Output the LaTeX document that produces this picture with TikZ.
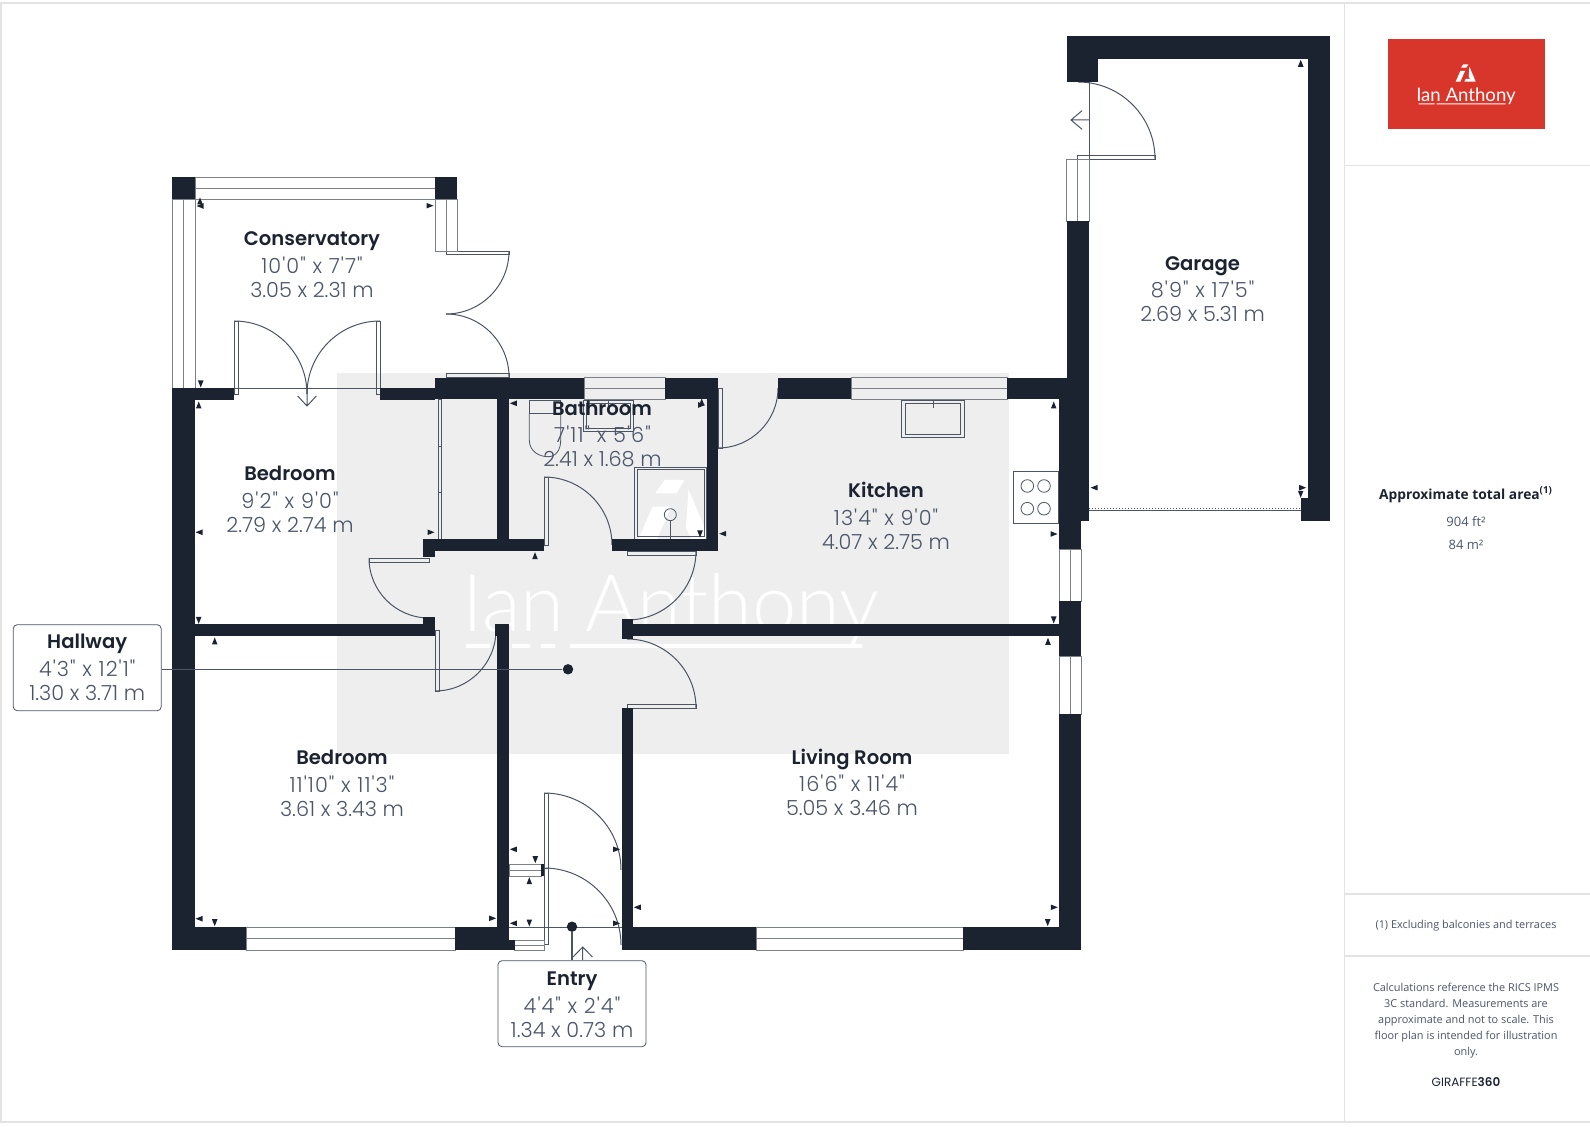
\documentclass[tikz,border=0pt]{standalone}
\usepackage{fontspec}
\setmainfont{Open Sans}
\newfontfamily\titlefont{Poppins SemiBold}
\newfontfamily\dimfont{Poppins Light}[Kerning=Off, Numbers=Monospaced]
\newfontfamily\impfont{Poppins Light}[Kerning=Off, Numbers=Monospaced, LetterSpace=5]
\newfontfamily\brandfont{Lato Light}
\definecolor{wallcol}{HTML}{1B2331}
\definecolor{linecol}{HTML}{4B5563}
\definecolor{glasscol}{HTML}{7C8188}
\definecolor{dimcol}{HTML}{4A5568}
\definecolor{panelcol}{HTML}{E3E3E3}
\definecolor{backcol}{HTML}{EEEEEE}
\definecolor{brandred}{HTML}{D9362B}
\newcommand{\brandmark}{(23,0) -- (38,0) -- (32,10) -- (16,10) -- cycle (14,20) -- (28,20) -- (14,52) -- (0,52) -- cycle (41,7) -- (60,52) -- (26,52) -- (30,44) -- (43,44) -- (39,36) -- cycle}
\tikzset{
	wall/.style={fill=wallcol},
	glass/.style={draw=glasscol, line width=0.45pt},
	panel/.style={draw=linecol, line width=0.4pt},
	swing/.style={draw=linecol, line width=0.5pt},
	divider/.style={draw=panelcol, line width=0.8pt},
	hotspot/.style={circle, fill=wallcol, inner sep=0pt, minimum size=5.2pt},
	roomname/.style={font=\titlefont\fontsize{9.8}{12}\selectfont, text=wallcol, text height=7.5pt, text depth=0pt},
	roomsize/.style={font=\dimfont\fontsize{10.4}{12.2}\selectfont, text=dimcol, align=center},
	tag/.style={draw=linecol, line width=0.4pt, fill=white, rounded corners=2pt, minimum width=74pt, minimum height=43pt, inner sep=0pt},
	sidetext/.style={font=\fontsize{5.45}{8}\selectfont, text=dimcol, align=center},
}
\begin{document}
\begin{tikzpicture}[x=0.5pt, y=-0.5pt]
	\useasboundingbox (0,0) rectangle (1590,1127);
	\draw[panelcol, line width=0.7pt] (1590,3) -- (1,3) -- (1,1122) -- (1590,1122);
	\draw[divider] (1344.5,3) -- (1344.5,1122);
	\draw[divider] (1344.5,165.5) -- (1590,165.5);
	\draw[divider] (1344.5,894) -- (1590,894);
	\draw[divider] (1344.5,956) -- (1590,956);

	\fill[backcol] (337,372.7) rectangle (1009,753.7);
	\fill[white, shift={(634,480)}, scale=1.33] \brandmark;
	\node[text=white, anchor=base, font=\brandfont\fontsize{39.8}{40}\selectfont, inner sep=0pt] (watermark) at (671,632) {Ian Anthony};
	\fill[white] (466,644) rectangle (490,648) (512,644) rectangle (530,648) (541,644) rectangle (555,648) (570,644) rectangle (862,648);

	\foreach \xa/\ya/\xb/\yb in {446/251/509/254, 446/373.5/509/377.3, 234/321/238/394.3, 376.7/321/380.3/394.3, 544/477/548/545, 718/388/722/448.3, 369/558/429.3/562, 435/630/439/691, 627.3/551/696/555, 627.3/704.3/696/708.3, 544/793.3/548/868, 544/868/548/944.3, 1077.7/155/1155/159, 438.3/399.5/441.7/446, 438.3/446/441.7/492.7, 438.3/492.7/441.7/539.3}
		\draw[panel] (\xa,\ya) rectangle (\xb,\yb);

	\draw[swing] (509,251) arc[start angle=0, end angle=90, radius=63];
	\draw[swing] (446,314) arc[start angle=-90, end angle=0, radius=63];
	\draw[swing] (234,321) arc[start angle=-90, end angle=0, radius=73];
	\draw[swing] (380,321) arc[start angle=-90, end angle=-180, radius=73];
	\draw[swing] (544,477) arc[start angle=-90, end angle=0, radius=68];
	\draw[swing] (718,448) arc[start angle=90, end angle=0, radius=60];
	\draw[swing] (369,558) arc[start angle=180, end angle=90, radius=60];
	\draw[swing] (435,691) arc[start angle=90, end angle=0, radius=61];
	\draw[swing] (696,551) arc[start angle=0, end angle=90, radius=69];
	\draw[swing] (627,639) arc[start angle=-90, end angle=0, radius=69];
	\draw[swing] (544,793) arc[start angle=-90, end angle=0, radius=77];
	\draw[swing] (544,868) arc[start angle=-90, end angle=0, radius=77];
	\draw[swing] (1155,159) arc[start angle=0, end angle=-90, radius=77];

	\draw[swing] (234,388.3) -- (380,388.3);
	\draw[swing] (307,388.3) -- (307,406) (297.7,396) -- (307,406) -- (316.3,396);
	\draw[swing] (509,927.3) -- (621.7,927.3);
	\draw[swing] (1089,81.7) -- (1089,159);
	\draw[swing] (1089,120) -- (1071,120) (1082,110.7) -- (1071,120) -- (1082,129.3);
	\draw[swing] (1089.3,511) -- (1301.3,511);
	\draw[swing, densely dotted] (1089.3,508.5) -- (1301.3,508.5);
	\draw[swing] (582.7,960) -- (582.7,947) (573,957) -- (582.7,947) -- (592.4,957);

	\draw[panel] (634.3,467) rectangle (706.7,539.3);
	\draw[panel] (637.3,469.7) rectangle (704,536.7);
	\draw[panel] (670.3,514.7) circle[radius=6];
	\draw[panel] (670.3,520.7) -- (670.3,539.3);
	\draw[panel] (529.3,400) rectangle (560.7,413.3);
	\draw[panel] (529.3,413.3) -- (529.3,440) .. controls (529.3,452) and (540,456.7) .. (548,456.7) .. controls (556,456.7) and (560.7,450) .. (560.7,440) -- (560.7,413.3);
	\draw[panel] (583.3,400) rectangle (633.3,431.7);
	\draw[panel] (586.7,403) rectangle (630,428);
	\draw[panel] (608.3,400) -- (608.3,406);
	\draw[panel] (901.5,400) rectangle (964.3,437);
	\draw[panel] (905.5,403) rectangle (960,434);
	\draw[panel] (933,400) -- (933,408);
	\draw[panel, fill=white] (1013,471) rectangle (1058.3,523.3);
	\foreach \hx in {1027.3,1044}
		\foreach \hy in {486,508.7}
			\draw[panel] (\hx,\hy) circle[radius=6.3];

	\foreach \xa/\ya/\xb/\yb in {195/177/435/199, 584.3/377.8/665/399.5, 851/377.8/1007/399.5, 246/927.3/455.3/950, 756.4/927.3/963/950, 514.7/940/544/950, 509/864.3/541.3/876}
		\draw[glass] (\xa,\ya) rectangle (\xb,\yb) (\xa,{(\ya+\yb)/2}) -- (\xb,{(\ya+\yb)/2});
	\foreach \xa/\ya/\xb/\yb in {172/199/195/388, 435/199/457/251, 1059/549/1081/601, 1059/656/1081/714, 1066.7/159/1089/221}
		\draw[glass] (\xa,\ya) rectangle (\xb,\yb) ({(\xa+\xb)/2},\ya) -- ({(\xa+\xb)/2},\yb);

	\foreach \xa/\ya/\xb/\yb in {172/177/195/199, 434.7/177/457.3/199, 172/388/195/950, 172/388/234/400, 380/388/435/400, 435/377.8/584.3/399.5, 665/377.8/717.7/399.5, 706.7/399/717.7/550.7, 612.3/539.3/717.7/550.7, 497.3/399/509/540, 423.3/539.3/544/550.7, 423.3/550/435/557.3, 778.3/377.8/851/399.5, 1007/377.8/1066.7/399.5, 1059/377.8/1089.3/521, 1059/521/1081/549, 1059/601/1081/656, 1059/714/1081.3/950, 1066.7/36/1330/59.3, 1066.7/59/1098/81.7, 1308/36/1330.3/521, 1301.3/498.3/1330.3/521, 1066.7/221/1089.3/378, 172/624.3/435/636, 423.3/617.3/435/636, 495/624.3/509/636, 497.3/624.3/509/950, 621.7/619.3/633.3/639.3, 633/624.3/1059/636, 621.7/708.3/633.3/950, 172/927.3/246/950, 455.3/927.3/509/950, 509/940/514.7/950, 621.7/927.3/756.4/950, 963/927.3/1081.3/950, 541.3/864.3/544/876}
		\fill[wall] (\xa,\ya) rectangle (\xb,\yb);

	\foreach \mx/\my/\ang in {200/201/90, 200/206/180, 430/205.7/0, 200.7/384/-90, 198.7/405/90, 513.3/403.3/180, 701.7/402/90, 701.7/405/0, 431/532.3/0, 535/555.7/90, 700/534/-90, 722.7/533.7/180, 1053.7/405/90, 1054/534/0, 1053.7/620/-90, 1048/641.3/90, 1094/487.7/180, 1302.7/487.7/0, 1300.7/494.3/-90, 1300.7/63.3/90, 513.3/849.3/180, 616.7/849.3/0, 535.3/859.7/-90, 529.3/880.7/90, 492.7/918.3/0, 513.3/923.3/180, 529.3/923/-90, 616.7/923.3/0, 637.3/907.3/180, 199/532.3/180, 198.7/620.3/-90, 214.7/641/90, 199/918.7/180, 214.7/922.7/-90, 1054.3/907.3/0, 1047.7/922.7/-90}
		\fill[wallcol, shift={(\mx,\my)}, rotate=\ang] (3.5,0) -- (-3.5,2.8) -- (-3.5,-2.8) -- cycle;

	\foreach \id/\rx/\sx/\ry/\sy/\nm/\imp/\met in {conservatory/312/312/238/277.5/Conservatory/10'0" x 7'7"/3.05 x 2.31 m, garage/1202.6/1202.6/262.6/301.5/Garage/8'9" x 17'5"/2.69 x 5.31 m, bathroom/602/602.5/407.6/446.5/Bathroom/7'11" x 5'6"/2.41 x 1.68 m, bedroomnorth/290/290/473.5/512.5/Bedroom/9'2" x 9'0"/2.79 x 2.74 m, kitchen/886/886/490/529/Kitchen/13'4" x 9'0"/4.07 x 2.75 m, bedroomsouth/342/342/757.5/796.5/Bedroom/11'10" x 11'3"/3.61 x 3.43 m, livingroom/852/852/757.5/795.5/Living Room/16'6" x 11'4"/5.05 x 3.46 m}{
		\node[roomname] (\id) at (\rx,\ry) {\nm};
		\node[roomsize] (\id size) at (\sx,\sy) {{\impfont\imp}\\\met};
	}

	\node[tag] (hallway) at (87.2,667.7) {};
	\node[roomname] (hallway name) at (87.2,641) {Hallway};
	\node[roomsize] (hallway size) at (87.2,680.3) {{\impfont 4'3" x 12'1"}\\1.30 x 3.71 m};
	\node[hotspot] (hallway dot) at (568,669.3) {};
	\draw[swing] (hallway dot -| hallway.east) -- (hallway dot);

	\node[tag] (entry) at (572,1003.7) {};
	\node[roomname] (entry name) at (572,977.5) {Entry};
	\node[roomsize] (entry size) at (572,1017.5) {{\impfont 4'4" x 2'4"}\\1.34 x 0.73 m};
	\node[hotspot] (entry dot) at (572,926.7) {};
	\draw[swing, line width=0.6pt] (entry dot) -- (entry);

	\fill[brandred] (1387.7,39.3) rectangle (1545,128.7);
	\fill[white, shift={(1455.7,64.3)}, scale=0.333] \brandmark;
	\node[text=white, anchor=base, font=\fontspec{Lato}\fontsize{9.3}{10}\selectfont, inner sep=0pt] (brand) at (1466,101.5) {Ian Anthony};
	\fill[white] (1418.5,103.5) rectangle (1434.5,104.5) (1436.5,103.5) rectangle (1505.7,104.5);

	\node[sidetext, font=\bfseries\fontsize{6.9}{8}\selectfont, text=wallcol] (area) at (1466,495) {Approximate total area\textsuperscript{(1)}};
	\node[sidetext, font=\fontsize{6.5}{8}\selectfont] (areaft) at (1466,522) {904 ft²};
	\node[sidetext, font=\fontsize{6.5}{8}\selectfont] (aream) at (1466,544.5) {84 m²};
	\node[sidetext] (excluding) at (1466,926) {(1) Excluding balconies and terraces};
	\node[sidetext] (calc) at (1466,1021) {Calculations reference the RICS IPMS\\3C standard. Measurements are\\approximate and not to scale. This\\floor plan is intended for illustration\\only.};
	\node[sidetext, font=\fontspec{Poppins}\fontsize{6}{8}\selectfont, text=wallcol] (giraffe) at (1466,1082) {GIRAFFE{\fontspec{Poppins SemiBold}360}};
\end{tikzpicture}
\end{document}
